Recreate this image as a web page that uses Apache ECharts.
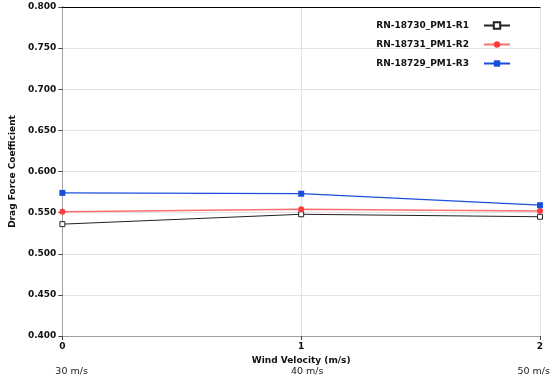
<!DOCTYPE html>
<html><head><meta charset="utf-8">
<script src="https://cdn.jsdelivr.net/npm/echarts@6/dist/echarts.min.js"></script>
<style>html,body{margin:0;padding:0;background:#fff}#c{width:550px;height:385px}</style>
</head><body><div id="c"></div>
<script>
const xValues = [0, 1, 2];
const speedLabels = ['30 m/s', '40 m/s', '50 m/s'];
const seriesNames = ['RN-18730_PM1-R1', 'RN-18731_PM1-R2', 'RN-18729_PM1-R3'];
const r1 = [0.536, 0.548, 0.545];
const r2 = [0.551, 0.554, 0.552];
const r3 = [0.574, 0.573, 0.559];

const FONT = 'DejaVu Sans';
const chart = echarts.init(document.getElementById('c'), null, {renderer: 'canvas'});
const pair = v => xValues.map((x, i) => [x, v[i]]);
const option = {
  animation: false,
  backgroundColor: '#fff',
  grid: {left: 60, right: 10, top: 7, bottom: 49},
  legend: {
    right: 34, top: 16, orient: 'vertical', align: 'right',
    itemWidth: 26, itemHeight: 8, itemGap: 10,
    textStyle: {fontFamily: FONT, fontWeight: 'bold', fontSize: 9, color: '#111', padding: [0, 10, 0, 0]},
    data: seriesNames
  },
  xAxis: [{
    type: 'value', min: 0, max: 2, interval: 1,
    name: 'Wind Velocity (m/s)', nameLocation: 'middle', nameGap: 20,
    nameTextStyle: {fontFamily: FONT, fontWeight: 'bold', fontSize: 9, color: '#111'},
    axisLine: {lineStyle: {color: '#a0a0a0'}},
    axisTick: {show: true, length: 4, lineStyle: {color: '#444'}},
    axisLabel: {fontFamily: FONT, fontWeight: 'bold', fontSize: 9, color: '#111', margin: 6},
    splitLine: {show: true, lineStyle: {color: '#e2e2e2'}}
  }, {
    type: 'value', position: 'top', min: 0, max: 2,
    axisLine: {show: true, lineStyle: {color: '#000'}},
    axisTick: {show: false}, axisLabel: {show: false}, splitLine: {show: false}
  }],
  yAxis: [{
    type: 'value', min: 0.4, max: 0.8, interval: 0.05,
    name: 'Drag Force Coefficient', nameLocation: 'middle', nameGap: 35,
    nameTextStyle: {fontFamily: FONT, fontWeight: 'bold', fontSize: 9, color: '#111'},
    axisLine: {show: true, lineStyle: {color: '#000'}},
    axisTick: {show: true, length: 4, lineStyle: {color: '#444'}},
    axisLabel: {fontFamily: FONT, fontWeight: 'bold', fontSize: 9, color: '#111', margin: 6,
      formatter: v => v.toFixed(3)},
    splitLine: {show: true, lineStyle: {color: '#e2e2e2'}}
  }, {
    type: 'value', position: 'right', min: 0.4, max: 0.8,
    axisLine: {show: true, lineStyle: {color: '#a0a0a0'}},
    axisTick: {show: false}, axisLabel: {show: false}, splitLine: {show: false}
  }],
  series: [
    {name: seriesNames[0], type: 'line', data: pair(r1), symbol: 'rect', symbolSize: 5,
     lineStyle: {color: '#222', width: 1}, itemStyle: {color: '#fff', borderColor: '#222', borderWidth: 1}, color: '#222'},
    {name: seriesNames[1], type: 'line', data: pair(r2), symbol: 'circle', symbolSize: 6,
     lineStyle: {color: '#ff7070', width: 1.5}, itemStyle: {color: '#ff3b3b'}, color: '#ff3b3b'},
    {name: seriesNames[2], type: 'line', data: pair(r3), symbol: 'rect', symbolSize: 6,
     lineStyle: {color: '#1a4fdc', width: 1.2}, itemStyle: {color: '#1a4fdc'}, color: '#1a4fdc'}
  ]
};
chart.setOption(option);
const g = xValues.map((x, i) => {
  const p = chart.convertToPixel({xAxisIndex: 0}, x);
  const align = i === 0 ? 'left' : (i === xValues.length - 1 ? 'right' : 'center');
  const dx = i === 0 ? -7 : (i === xValues.length - 1 ? 10 : 6);
  return {type: 'text', x: p + dx, y: 367,
    style: {text: speedLabels[i], fontFamily: FONT, fontSize: 9.5, fill: '#222', align: align}};
});
chart.setOption({graphic: g});
</script></body></html>
